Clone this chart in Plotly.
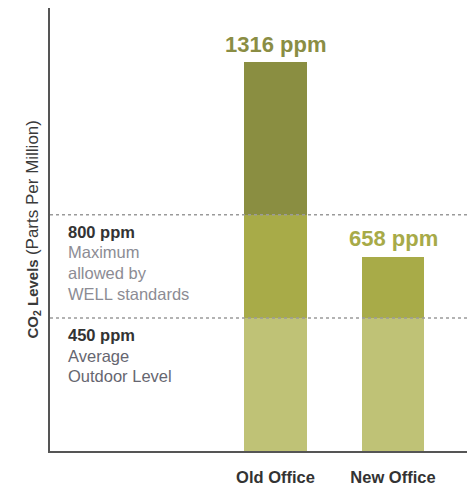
import plotly.graph_objects as go

categories = ["Old Office", "New Office"]
values = [1316, 658]
outdoor_level = 450
well_level = 800
value_labels = ["1316 ppm", "658 ppm"]
label_colors = ["#8a8d44", "#a7aa48"]

seg_low = [min(v, outdoor_level) for v in values]
seg_mid = [max(min(v, well_level) - outdoor_level, 0) for v in values]
seg_high = [max(v - well_level, 0) for v in values]

FONT = "Liberation Sans"
light, medium, dark = "#bfc276", "#a8ab48", "#8a8e41"

fig = go.Figure()
for seg, col in [(seg_low, light), (seg_mid, medium), (seg_high, dark)]:
    fig.add_trace(go.Bar(x=[0, 1], y=seg, marker=dict(color=col, line=dict(width=0)),
                         width=0.536, hoverinfo="skip", showlegend=False))

for lvl in [well_level, outdoor_level]:
    fig.add_shape(type="line", xref="paper", x0=0, x1=1, yref="y", y0=lvl, y1=lvl,
                  line=dict(color="#9a9a9a", width=1.5, dash="dot"), layer="above")

for i, (v, t, c) in enumerate(zip(values, value_labels, label_colors)):
    fig.add_annotation(x=i, y=v, text=f"<b>{t}</b>", showarrow=False, yshift=18,
                       yanchor="middle", font=dict(family=FONT, size=22, color=c))

left_notes = [
    (well_level, ["<b>800 ppm</b>", "Maximum", "allowed by", "WELL standards"],
     ["#333333", "#8c8c94", "#8c8c94", "#8c8c94"]),
    (outdoor_level, ["<b>450 ppm</b>", "Average", "Outdoor Level"],
     ["#333333", "#666670", "#666670"]),
]
for lvl, lines, cols in left_notes:
    for k, (txt, col) in enumerate(zip(lines, cols)):
        fig.add_annotation(xref="paper", x=0, xshift=16, xanchor="left", y=lvl, yref="y",
                           yanchor="middle", yshift=-(17 + 20.6 * k), text=txt, showarrow=False,
                           font=dict(family=FONT, size=16.5, color=col))

fig.add_annotation(xref="paper", yref="paper", x=0, y=0.5, xshift=-30, textangle=-90,
                   text="<b>CO<sub>2</sub> Levels</b> <span style='font-size:17px'>(Parts Per Million)</span>",
                   showarrow=False, font=dict(family=FONT, size=15, color="#3a3a3a"))

fig.update_layout(
    barmode="stack",
    width=467, height=485,
    margin=dict(l=50, r=0, t=8, b=34),
    plot_bgcolor="white", paper_bgcolor="white",
    xaxis=dict(range=[-1.92, 1.63], tickvals=[0, 1], ticktext=[f"<b>{c}</b>" for c in categories],
               showgrid=False, zeroline=False, showline=True, linecolor="#555555", linewidth=2,
               ticks="", ticklabelstandoff=10, tickfont=dict(family=FONT, size=16.5, color="#333333"),
               automargin=False, fixedrange=True),
    yaxis=dict(range=[0, 1500], showgrid=False, zeroline=False, showticklabels=False,
               showline=True, linecolor="#555555", linewidth=2, ticks="", automargin=False,
               fixedrange=True),
    bargap=0,
)

fig.write_html("out.html", config={"displayModeBar": False},
               post_script="document.documentElement.style.margin='0';document.body.style.margin='0';document.body.style.overflow='hidden';")
